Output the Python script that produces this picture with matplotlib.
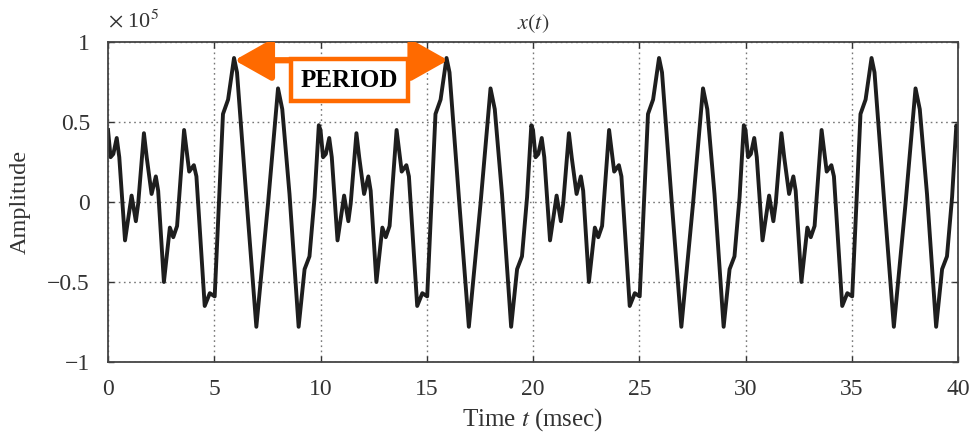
import numpy as np
import matplotlib
matplotlib.use("Agg")
import matplotlib.pyplot as plt
from matplotlib.ticker import FuncFormatter, FixedLocator
from matplotlib.patches import FancyArrowPatch

plt.rcParams['font.family'] = ['Liberation Serif', 'DejaVu Serif']
plt.rcParams['mathtext.fontset'] = 'stix'

# One cycle of the waveform (time in msec, amplitude in units of 1e5)
cycle_time = [0.00, 0.12, 0.25, 0.41, 0.53, 0.80, 1.11, 1.31, 1.42, 1.69,
              1.82, 2.05, 2.25, 2.36, 2.63, 2.91, 3.07, 3.25, 3.58, 3.82,
              4.04, 4.16, 4.55, 4.79, 5.02, 5.41, 5.65, 5.93, 6.07, 6.51,
              6.98, 7.53, 8.00, 8.20, 8.54, 8.97, 9.25, 9.48, 9.72, 9.92]
cycle_amp = [0.45, 0.28, 0.30, 0.40, 0.28, -0.24, 0.04, -0.12, -0.01, 0.43,
             0.28, 0.05, 0.16, 0.07, -0.50, -0.16, -0.22, -0.15, 0.45, 0.19,
             0.23, 0.16, -0.65, -0.57, -0.59, 0.55, 0.64, 0.90, 0.81, 0.03,
             -0.78, -0.01, 0.71, 0.58, 0.05, -0.78, -0.42, -0.34, 0.03, 0.48]
period_ms = 10
n_cycles = 4

x_ticks = [0, 5, 10, 15, 20, 25, 30, 35, 40]
y_ticks = [-1, -0.5, 0, 0.5, 1]

t = np.concatenate([np.array(cycle_time) + k * period_ms for k in range(n_cycles)] + [[40.0]])
a = np.concatenate([np.array(cycle_amp) for _ in range(n_cycles)] + [[cycle_amp[0]]])

fig = plt.figure(figsize=(9.74, 4.33), dpi=100)
ax = fig.add_axes([0.1109, 0.164, 0.8727, 0.739])

ax.plot(t, a, color='#1e1e1e', lw=2.8, solid_joinstyle='round')

ax.set_xlim(0, 40)
ax.set_ylim(-1, 1)
ax.xaxis.set_major_locator(FixedLocator(x_ticks))
ax.yaxis.set_major_locator(FixedLocator(y_ticks))
ax.yaxis.set_major_formatter(FuncFormatter(lambda v, p: ('%g' % v).replace('-', '\u2212')))
ax.xaxis.set_major_formatter(FuncFormatter(lambda v, p: '%g' % v))
ax.tick_params(direction='in', top=True, right=True, labelsize=17, length=4, width=1,
               labelcolor='#333333', color='#333333')
ax.tick_params(axis='y', pad=13)
ax.tick_params(axis='x', pad=12)
ax.grid(True, color='#777777', linestyle=(0, (1.2, 2.5)), linewidth=1.0)
for s in ax.spines.values():
    s.set_linewidth(1.3)
    s.set_color('#444444')

ax.set_xlabel('Time $t$ (msec)', fontsize=18, labelpad=5, color='#333333')
ax.set_ylabel('Amplitude', fontsize=17.5, labelpad=12, color='#333333')
ax.set_title('$x(t)$', fontsize=16, pad=9, color='#333333')
ax.text(0.0, 1.03, r'$\times$ 10$^5$', transform=ax.transAxes, fontsize=16, ha='left', va='bottom',
        color='#333333')

# PERIOD annotation
orange = '#FF6A00'
arrow = FancyArrowPatch((5.95, 0.886), (16.0, 0.886), arrowstyle='<|-|>,head_length=1.6,head_width=0.9',
                        mutation_scale=14, color=orange, lw=4.5, shrinkA=0, shrinkB=0, zorder=5)
ax.add_patch(arrow)
ax.text(11.36, 0.76, 'PERIOD', fontsize=18, fontweight='bold', ha='center', va='center', zorder=6,
        bbox=dict(boxstyle='square,pad=0.38', fc='white', ec=orange, lw=3.2))

fig.savefig('out.png', dpi=100)
